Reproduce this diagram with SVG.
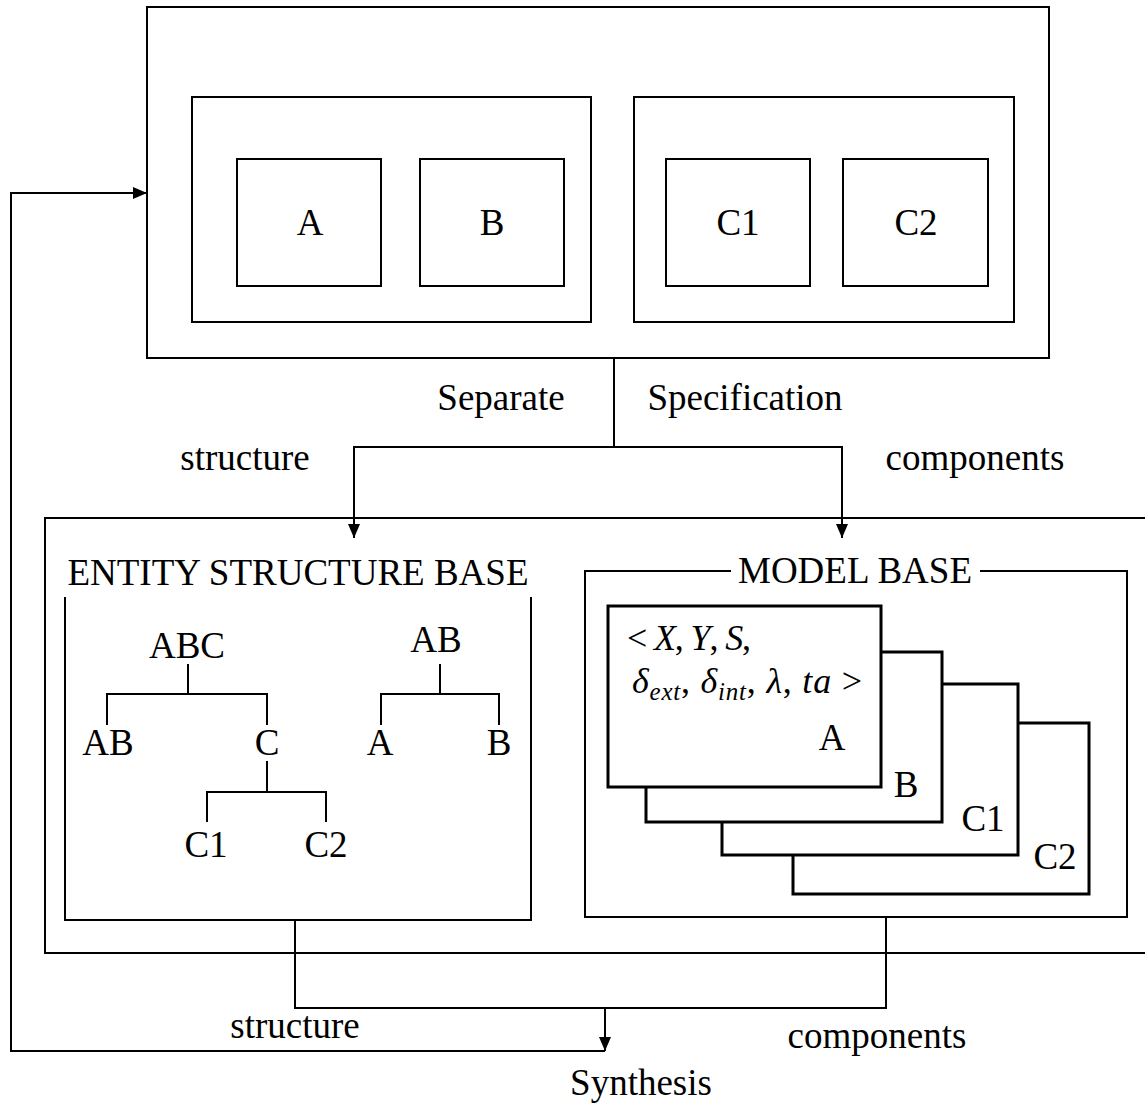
<svg xmlns="http://www.w3.org/2000/svg" width="1145" height="1106" viewBox="0 0 1145 1106">
<defs>
<style>
.t{font-family:"Liberation Serif","Times New Roman",serif;font-size:37px;fill:#000}
.m{font-family:"Liberation Serif","Times New Roman",serif;font-size:36px;fill:#000}
.i{font-style:italic}
.s{font-size:25px;font-style:italic}
.b{fill:#fff;stroke:#000;stroke-width:2}
.ln{fill:none;stroke:#000;stroke-width:2}
.card{fill:#fff;stroke:#000;stroke-width:3}
</style>
<marker id="ah" viewBox="0 0 14 12" refX="14" refY="6" markerWidth="14" markerHeight="12" markerUnits="userSpaceOnUse" orient="auto">
<path d="M0,0 L14,6 L0,12 z" fill="#000"/>
</marker>
</defs>
<rect width="1145" height="1106" fill="#fff"/>

<g id="spec">
<rect class="b" x="147" y="7" width="902" height="351"/>
<g id="groupAB">
<rect class="b" x="192" y="97" width="399" height="225"/>
<g id="boxA"><rect class="b" x="237" y="159" width="144" height="127"/><text class="t" x="310" y="235" text-anchor="middle">A</text></g>
<g id="boxB"><rect class="b" x="420" y="159" width="144" height="127"/><text class="t" x="492" y="235" text-anchor="middle">B</text></g>
</g>
<g id="groupC">
<rect class="b" x="634" y="97" width="380" height="225"/>
<g id="boxC1"><rect class="b" x="666" y="159" width="144" height="127"/><text class="t" x="738" y="235" text-anchor="middle">C1</text></g>
<g id="boxC2"><rect class="b" x="843" y="159" width="145" height="127"/><text class="t" x="916" y="235" text-anchor="middle">C2</text></g>
</g>
</g>

<g id="bases">
<rect class="b" x="45" y="518" width="1110" height="435"/>
<g id="esb">
<path class="ln" d="M65,597 V920 H531 V597"/>
<text class="t" x="298" y="585" text-anchor="middle">ENTITY STRUCTURE BASE</text>
<g id="tree1">
<text class="t" x="187" y="658" text-anchor="middle">ABC</text>
<path class="ln" d="M188,664 V694 M107,725 V694 H267 V725"/>
<text class="t" x="108" y="755" text-anchor="middle">AB</text>
<text class="t" x="267" y="755" text-anchor="middle">C</text>
<path class="ln" d="M267,761 V792 M207,822 V792 H326 V822"/>
<text class="t" x="206" y="857" text-anchor="middle">C1</text>
<text class="t" x="326" y="857" text-anchor="middle">C2</text>
</g>
<g id="tree2">
<text class="t" x="436" y="652" text-anchor="middle">AB</text>
<path class="ln" d="M440,664 V694 M381,725 V694 H499 V725"/>
<text class="t" x="380" y="755" text-anchor="middle">A</text>
<text class="t" x="499" y="755" text-anchor="middle">B</text>
</g>
</g>
<g id="modelbase">
<path class="ln" d="M731,571 H585 V917 H1127 V571 H980"/>
<text class="t" x="855" y="583" text-anchor="middle">MODEL BASE</text>
<g id="cardC2"><rect class="card" x="793" y="723" width="296" height="171"/><text class="t" x="1055" y="869" text-anchor="middle">C2</text></g>
<g id="cardC1"><rect class="card" x="722" y="684" width="296" height="171"/><text class="t" x="983" y="831" text-anchor="middle">C1</text></g>
<g id="cardB"><rect class="card" x="646" y="652" width="296" height="170"/><text class="t" x="906" y="797" text-anchor="middle">B</text></g>
<g id="cardA"><rect class="card" x="608" y="606" width="273" height="181" stroke-width="4"/>
<text class="m" x="627" y="650" textLength="124" lengthAdjust="spacing">&lt; <tspan class="i">X</tspan>, <tspan class="i">Y</tspan>, <tspan class="i">S</tspan>,</text>
<text class="m" x="632" y="693" textLength="230" lengthAdjust="spacing"><tspan class="i">δ</tspan><tspan class="s" dy="7">ext</tspan><tspan dy="-7">, </tspan><tspan class="i">δ</tspan><tspan class="s" dy="7">int</tspan><tspan dy="-7">, </tspan><tspan class="i">λ</tspan>, <tspan class="i">ta</tspan> &gt;</text>
<text class="t" x="832" y="750" text-anchor="middle">A</text>
</g>
</g>
</g>

<g id="connectors">
<path class="ln" d="M614,358 V447"/>
<path class="ln" d="M614,447 H354 V538" marker-end="url(#ah)"/>
<path class="ln" d="M614,447 H842 V538" marker-end="url(#ah)"/>
<path class="ln" d="M295,920 V1008 H886 V917"/>
<path class="ln" d="M605,1008 V1051" marker-end="url(#ah)"/>
<path class="ln" d="M605,1051 H11 V193 H147" marker-end="url(#ah)"/>
</g>

<g id="labels">
<text class="t" x="501" y="410" text-anchor="middle">Separate</text>
<text class="t" x="745" y="410" text-anchor="middle">Specification</text>
<text class="t" x="245" y="470" text-anchor="middle">structure</text>
<text class="t" x="975" y="470" text-anchor="middle">components</text>
<text class="t" x="295" y="1038" text-anchor="middle">structure</text>
<text class="t" x="877" y="1048" text-anchor="middle">components</text>
<text class="t" x="641" y="1095" text-anchor="middle">Synthesis</text>
</g>
</svg>
